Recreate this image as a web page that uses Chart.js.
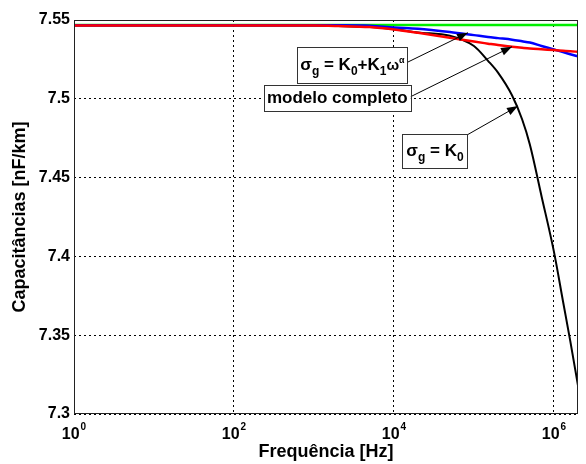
<!DOCTYPE html>
<html><head><meta charset="utf-8">
<script src="https://cdn.jsdelivr.net/npm/chart.js@4/dist/chart.umd.min.js"></script>
<style>html,body{margin:0;padding:0;background:#fff}#wrap{width:586px;height:464px}</style>
</head><body><div id="wrap"><canvas id="c" width="586" height="464"></canvas></div>
<script>
// ---- data ----
const frequencies = [1, 10, 100, 1e3, 2e3, 5e3, 1e4, 2e4, 5e4, 1e5, 1.5e5, 2e5, 3e5, 4e5, 5e5, 7e5, 1e6, 1.3e6, 1.6e6, 2e6];
const capConstante = [7.5468,7.5468,7.5468,7.5468,7.5468,7.5468,7.5468,7.5468,7.5468,7.5468,7.5468,7.5468,7.5468,7.5468,7.5468,7.5468,7.5468,7.5468,7.5468,7.5468];
const capModeloCompleto = [7.5465,7.5465,7.5465,7.5465,7.5462,7.5455,7.5440,7.5419,7.5388,7.5363,7.5350,7.5341,7.5331,7.5324,7.5319,7.5314,7.5309,7.5305,7.5302,7.5298];
const capK0K1 = [7.5467,7.5467,7.5467,7.5467,7.5467,7.5464,7.5453,7.5445,7.5424,7.5404,7.5392,7.5385,7.5375,7.5365,7.5357,7.5335,7.5313,7.5296,7.5283,7.5269];
const capK0 = [7.5465,7.5465,7.5465,7.5465,7.5462,7.5455,7.5441,7.5421,7.5400,7.5335,7.5241,7.5166,7.5021,7.4870,7.4710,7.4382,7.4030,7.3714,7.3464,7.3180];
const yTickValues = [7.3, 7.35, 7.4, 7.45, 7.5, 7.55];
const yTickLabels = ['7.3', '7.35', '7.4', '7.45', '7.5', '7.55'];
const xTickValues = [1, 100, 1e4, 1e6];
const xTickExponents = ['0', '2', '4', '6'];
const xTitle = 'Frequência [Hz]';
const yTitle = 'Capacitâncias [nF/km]';
// annotations: box centre (freq, value) and arrow tail/tip (freq, value)
const annotations = [
  {parts:[['σ',17,0],['g',12,5],[' = K',17,0],['0',12,5],['+K',17,0],['1',12,5],['ω',15,0],['α',9,-7]],
   box:[3030, 7.52126, 110, 36], from:[14980, 7.52335], to:[84260, 7.54194]},
  {parts:[['modelo completo',17,0]],
   box:[1957, 7.50051, 147, 26], from:[15870, 7.50114], to:[2.99e5, 7.53306]},
  {parts:[['σ',17,0],['g',12,5],[' = K',17,0],['0',12,5]],
   box:[32590, 7.46675, 65, 34], from:[81870, 7.47703], to:[3.554e5, 7.49543]}
];

const FONT = "'Liberation Sans', Arial, sans-serif";
const pts = arr => frequencies.map((f, i) => ({x: f, y: arr[i]}));

const overlay = {
  id: 'overlay',
  afterDraw(chart) {
    const {ctx, chartArea: a, scales: {x, y}} = chart;
    ctx.save();
    // axes box
    ctx.strokeStyle = '#222'; ctx.lineWidth = 1; ctx.setLineDash([]);
    ctx.strokeRect(a.left + 0.5, a.top + 0.5, a.right - a.left - 1, a.bottom - a.top - 1);
    // x tick labels with superscripts
    ctx.fillStyle = '#000'; ctx.textBaseline = 'alphabetic'; ctx.textAlign = 'left';
    xTickValues.forEach((v, i) => {
      const px = x.getPixelForValue(v);
      ctx.font = 'bold 16px ' + FONT;
      const w1 = ctx.measureText('10').width;
      ctx.font = 'bold 10px ' + FONT;
      const w2 = ctx.measureText(xTickExponents[i]).width;
      const x0 = px - (w1 + w2 + 1) / 2;
      ctx.font = 'bold 16px ' + FONT;
      ctx.fillText('10', x0, 439);
      ctx.font = 'bold 10px ' + FONT;
      ctx.fillText(xTickExponents[i], x0 + w1 + 1, 430);
    });
    // annotations
    annotations.forEach(an => {
      const cx = x.getPixelForValue(an.box[0]), cy = y.getPixelForValue(an.box[1]);
      const bw = an.box[2], bh = an.box[3];
      // arrow
      const fx = x.getPixelForValue(an.from[0]), fy = y.getPixelForValue(an.from[1]);
      const tx = x.getPixelForValue(an.to[0]), ty = y.getPixelForValue(an.to[1]);
      ctx.strokeStyle = '#000'; ctx.lineWidth = 1;
      ctx.beginPath(); ctx.moveTo(fx, fy); ctx.lineTo(tx, ty); ctx.stroke();
      const ang = Math.atan2(ty - fy, tx - fx), L = 11, W = 4;
      ctx.beginPath();
      ctx.moveTo(tx, ty);
      ctx.lineTo(tx - L * Math.cos(ang) + W * Math.sin(ang), ty - L * Math.sin(ang) - W * Math.cos(ang));
      ctx.lineTo(tx - L * Math.cos(ang) - W * Math.sin(ang), ty - L * Math.sin(ang) + W * Math.cos(ang));
      ctx.closePath(); ctx.fillStyle = '#000'; ctx.fill();
      // box
      ctx.fillStyle = '#fff';
      ctx.fillRect(cx - bw / 2, cy - bh / 2, bw, bh);
      ctx.strokeStyle = '#333'; ctx.lineWidth = 1;
      ctx.strokeRect(Math.round(cx - bw / 2) + 0.5, Math.round(cy - bh / 2) + 0.5, bw, bh);
      // text
      let tw = 0;
      an.parts.forEach(p => { ctx.font = 'bold ' + p[1] + 'px ' + FONT; tw += ctx.measureText(p[0]).width; });
      let xx = cx - tw / 2;
      const base = cy + 5;
      ctx.fillStyle = '#000';
      an.parts.forEach(p => {
        ctx.font = 'bold ' + p[1] + 'px ' + FONT;
        ctx.fillText(p[0], xx, base + p[2]);
        xx += ctx.measureText(p[0]).width;
      });
    });
    ctx.restore();
  }
};

new Chart(document.getElementById('c'), {
  type: 'line',
  data: {
    datasets: [
      {label: 'modelo completo', data: pts(capModeloCompleto), borderColor: '#ff0000', borderWidth: 2.5, order: 1},
      {label: 'σg = K0+K1ω^α', data: pts(capK0K1), borderColor: '#0000ff', borderWidth: 2.5, order: 2},
      {label: 'σg = K0', data: pts(capK0), borderColor: '#000000', borderWidth: 2, order: 3},
      {label: 'constante', data: pts(capConstante), borderColor: '#00ee00', borderWidth: 2.5, order: 4}
    ]
  },
  options: {
    responsive: false, animation: false, devicePixelRatio: 1,
    layout: {padding: {left: 0, top: 20, right: 8, bottom: 0}},
    elements: {point: {radius: 0}, line: {cubicInterpolationMode: 'monotone', fill: false}},
    plugins: {legend: {display: false}, tooltip: {enabled: false}},
    scales: {
      x: {
        type: 'logarithmic', min: 1, max: 2e6,
        afterBuildTicks: s => { s.ticks = xTickValues.map(v => ({value: v})); },
        afterFit: s => { s.height = 50; },
        ticks: {display: false},
        grid: {color: '#000', lineWidth: 1, drawTicks: false},
        border: {display: false, dash: [2, 3]},
        title: {display: true, text: xTitle, color: '#000', font: {family: FONT, size: 18, weight: 'bold'}, padding: {top: 0, bottom: 1}}
      },
      y: {
        type: 'linear', min: 7.3, max: 7.55,
        afterBuildTicks: s => { s.ticks = yTickValues.map(v => ({value: v})); },
        afterFit: s => { s.width = 74; },
        ticks: {color: '#000', padding: 4, font: {family: FONT, size: 16, weight: 'bold'}, callback: (v, i) => yTickLabels[i]},
        grid: {color: '#000', lineWidth: 1, drawTicks: false},
        border: {display: false, dash: [2, 3]},
        title: {display: true, text: yTitle, color: '#000', font: {family: FONT, size: 18, weight: 'bold'}, padding: {top: 9, bottom: 0}}
      }
    }
  },
  plugins: [overlay]
});
</script></body></html>
